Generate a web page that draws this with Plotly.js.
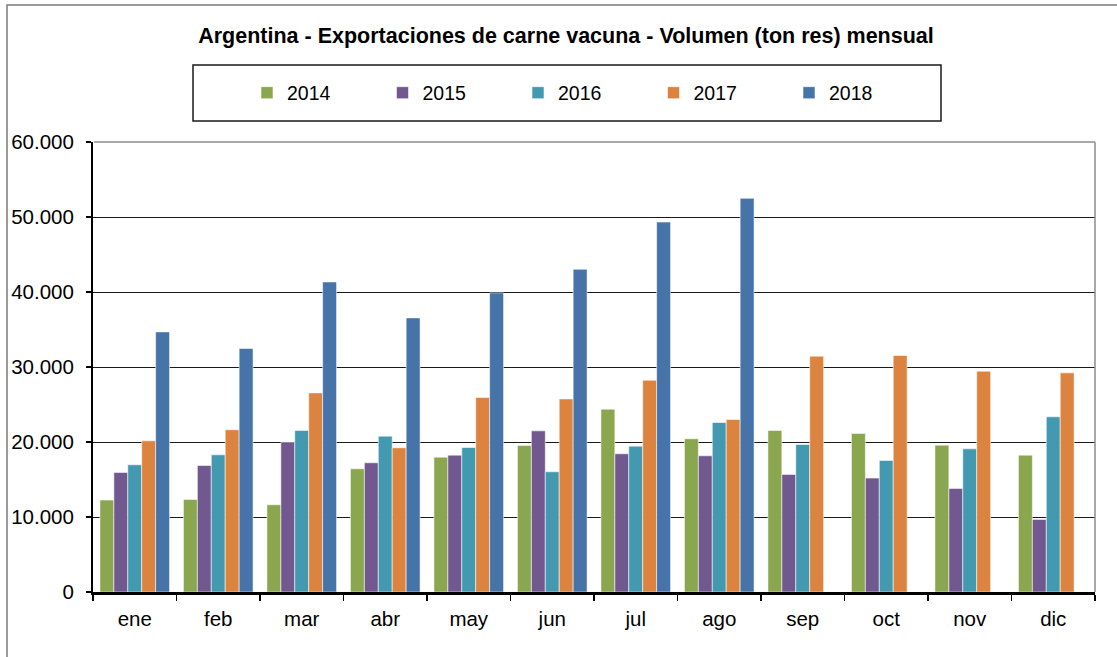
<!DOCTYPE html>
<html>
<head>
<meta charset="utf-8">
<script src="https://cdn.plot.ly/plotly-3.0.1.min.js"></script>
<style>html,body{margin:0;padding:0;background:#fff;}#chart{width:1117px;height:657px;}</style>
</head>
<body>
<div id="chart"></div>
<script>
const months = ["ene","feb","mar","abr","may","jun","jul","ago","sep","oct","nov","dic"];
const years = ["2014","2015","2016","2017","2018"];
const v2014 = [12260, 12340, 11630, 16430, 17980, 19540, 24380, 20430, 21540, 21140, 19580, 18250];
const v2015 = [15940, 16870, 19980, 17230, 18250, 21490, 18430, 18160, 15680, 15190, 13810, 9680];
const v2016 = [16960, 18290, 21540, 20780, 19270, 16030, 19450, 22600, 19670, 17540, 19090, 23360];
const v2017 = [20160, 21630, 26550, 19230, 25930, 25750, 28240, 23000, 31440, 31530, 29440, 29220];
const v2018 = [34680, 32460, 41340, 36550, 39880, 43030, 49330, 52490, null, null, null, null];
const seriesValues = [v2014, v2015, v2016, v2017, v2018];
const colors = ["#8aa64e", "#71598f", "#4299b0", "#dc843f", "#4673a8"];

const FONT = '"Liberation Sans", Arial, sans-serif';

const traces = years.map((y, i) => ({
  type: "bar",
  name: y,
  x: months,
  y: seriesValues[i],
  marker: { color: colors[i], line: { color: "rgba(255,255,255,0.55)", width: 1 } },
  hoverinfo: "x+y+name"
}));

const L = 93, R = 1095, T = 142, B = 592;
const px = v => (v - L) / (R - L);
const py = v => (B - v) / (B - T);

const layout = {
  width: 1117, height: 657,
  margin: { l: L, r: 1117 - R, t: T, b: 657 - B, pad: 0 },
  paper_bgcolor: "#ffffff",
  plot_bgcolor: "#ffffff",
  separators: ",.",
  font: { family: FONT, color: "#000", size: 20.5 },
  title: {
    text: "<b>Argentina - Exportaciones de carne vacuna - Volumen (ton res) mensual</b>",
    font: { family: FONT, size: 21.5, color: "#000" },
    x: 566 / 1117, xref: "container", xanchor: "center",
    y: 1 - 35 / 657, yref: "container", yanchor: "middle"
  },
  barmode: "group",
  bargap: 0.166,
  bargroupgap: 0,
  showlegend: true,
  legend: {
    orientation: "h",
    x: px(247), xanchor: "left",
    y: py(93), yanchor: "middle",
    entrywidth: 90.5, entrywidthmode: "pixels",
    bgcolor: "rgba(0,0,0,0)",
    borderwidth: 0,
    font: { family: FONT, size: 19.5, color: "#000" },
    traceorder: "normal"
  },
  xaxis: {
    type: "category",
    showgrid: false,
    showline: true, linecolor: "#000", linewidth: 3,
    ticks: "outside", tickson: "boundaries", ticklen: 6, tickwidth: 1.5, tickcolor: "#000",
    tickfont: { family: FONT, size: 20.5, color: "#000" },
    ticklabelstandoff: 6,
    fixedrange: true
  },
  yaxis: {
    range: [0, 60000],
    dtick: 10000, tick0: 0,
    tickformat: ",d",
    showgrid: true, gridcolor: "#1a1a1a", gridwidth: 1,
    zeroline: false,
    showline: true, linecolor: "#000", linewidth: 2,
    ticks: "outside", ticklen: 5, tickwidth: 1.5, tickcolor: "#000",
    tickfont: { family: FONT, size: 20.5, color: "#000" },
    ticklabelstandoff: 8,
    fixedrange: true
  },
  shapes: [
    { type: "line", xref: "paper", yref: "paper", x0: 0.001, x1: 1, y0: 1, y1: 1, line: { color: "#8c8c8c", width: 1.5 } },
    { type: "line", xref: "paper", yref: "paper", x0: 1, x1: 1, y0: 0, y1: 1, line: { color: "#8c8c8c", width: 1.5 } },
    { type: "rect", xref: "paper", yref: "paper", x0: px(193), x1: px(941), y0: py(121), y1: py(65), line: { color: "#1a1a1a", width: 1.5 }, layer: "below" },
    { type: "rect", xref: "paper", yref: "paper", x0: px(7), x1: px(1140), y0: py(690), y1: py(5), line: { color: "#7a7a7a", width: 1.5 }, layer: "below" }
  ]
};

Plotly.newPlot("chart", traces, layout, { displayModeBar: false, staticPlot: true });
</script>
</body>
</html>
